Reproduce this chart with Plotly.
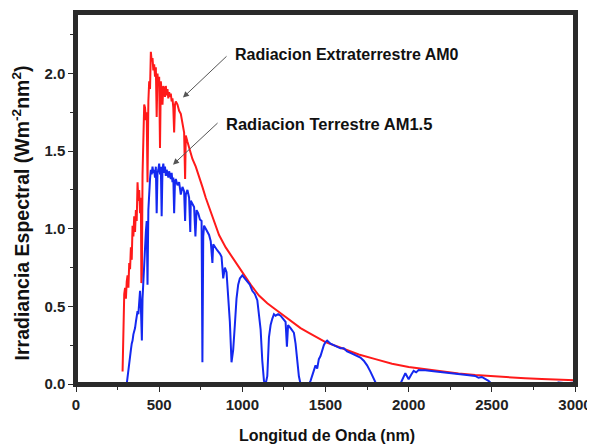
import plotly.graph_objects as go

# AM0 (extraterrestrial) spectrum
wl_am0 = [280, 283, 286, 290, 295, 300, 305, 310, 315, 320, 325, 330, 335, 340, 345,
          350, 355, 360, 365, 370, 375, 380, 385, 390, 393, 396, 400, 405, 410, 415,
          420, 425, 430, 435, 440, 445, 450, 455, 460, 465, 470, 475, 480, 485, 490,
          495, 500, 505, 510, 515, 520, 525, 530, 535, 540, 545, 550, 555, 560, 565,
          570, 575, 580, 585, 590, 595, 600, 610, 620, 630, 640, 650, 656, 660, 670,
          680, 690, 700, 720, 740, 760, 780, 800, 830, 860, 900, 950, 1000, 1050, 1100,
          1150, 1200, 1250, 1300, 1350, 1400, 1450, 1500, 1600, 1700, 1800, 1900, 2000,
          2100, 2200, 2300, 2400, 2500, 2600, 2700, 2800, 2900, 3000]
irr_am0 = [0.08, 0.32, 0.52, 0.58, 0.62, 0.55, 0.66, 0.70, 0.62, 0.78, 0.74, 0.88, 0.80, 1.02, 0.95,
           1.08, 0.98, 1.12, 1.05, 1.30, 1.18, 1.25, 1.10, 1.20, 0.65, 0.70, 1.35, 1.72, 1.80, 1.78,
           1.70, 1.75, 1.30, 1.82, 1.95, 1.90, 2.14, 2.08, 2.10, 2.02, 2.06, 1.98, 2.04, 1.72, 2.00,
           1.92, 1.98, 1.52, 1.95, 1.88, 1.80, 1.92, 1.90, 1.85, 1.92, 1.86, 1.90, 1.84, 1.88, 1.85,
           1.87, 1.82, 1.84, 1.78, 1.62, 1.80, 1.82, 1.80, 1.76, 1.74, 1.68, 1.62, 1.32, 1.60, 1.56,
           1.52, 1.49, 1.45, 1.40, 1.34, 1.27, 1.20, 1.14, 1.05, 0.96, 0.88, 0.80, 0.72, 0.64, 0.57,
           0.52, 0.48, 0.44, 0.40, 0.36, 0.33, 0.30, 0.27, 0.23, 0.19, 0.16, 0.13, 0.11,
           0.095, 0.08, 0.068, 0.058, 0.05, 0.043, 0.037, 0.032, 0.028, 0.024]

# AM1.5 (terrestrial) spectrum
wl_am15 = [305, 310, 315, 320, 325, 330, 335, 340, 345, 350, 355, 360, 365, 370, 375,
           380, 385, 390, 393, 396, 400, 405, 410, 415, 420, 425, 430, 435, 440, 445,
           450, 455, 460, 465, 470, 475, 480, 485, 490, 495, 500, 505, 510, 515, 520,
           525, 530, 535, 540, 545, 550, 555, 560, 565, 570, 575, 580, 585, 590, 595,
           600, 610, 620, 630, 640, 650, 656, 660, 670, 680, 687, 690, 700, 710, 718,
           725, 735, 745, 755, 760, 765, 770, 780, 790, 800, 810, 820, 825, 835, 850,
           865, 875, 885, 895, 905, 915, 925, 935, 945, 955, 965, 975, 985, 1000, 1015,
           1030, 1045, 1060, 1075, 1090, 1100, 1110, 1120, 1130, 1140, 1150, 1160, 1170, 1180, 1190,
           1200, 1215, 1230, 1245, 1260, 1268, 1275, 1290, 1310, 1320, 1330, 1340, 1350, 1400, 1410,
           1420, 1430, 1440, 1450, 1460, 1470, 1480, 1490, 1500, 1510, 1530, 1550, 1570, 1590, 1610,
           1630, 1650, 1670, 1690, 1710, 1730, 1750, 1770, 1790, 1805, 1950, 1965, 1980, 1990, 2000,
           2015, 2030, 2045, 2060, 2080, 2100, 2150, 2200, 2250, 2300, 2350, 2400, 2420, 2440, 2460,
           2480, 2500, 2880, 2900, 2950, 3000]
irr_am15 = [0.0, 0.05, 0.10, 0.16, 0.20, 0.22, 0.26, 0.28, 0.32, 0.34, 0.36, 0.40, 0.44, 0.47, 0.45,
            0.52, 0.60, 0.50, 0.30, 0.28, 0.55, 0.68, 0.80, 0.92, 0.98, 1.05, 0.64, 1.12, 1.25, 1.32,
            1.38, 1.35, 1.40, 1.36, 1.38, 1.33, 1.40, 1.10, 1.36, 1.38, 1.42, 1.35, 1.40, 1.08, 1.38,
            1.42, 1.36, 1.40, 1.34, 1.38, 1.36, 1.33, 1.37, 1.35, 1.32, 1.36, 1.30, 1.33, 1.10, 1.30,
            1.32, 1.28, 1.30, 1.22, 1.27, 1.24, 1.05, 1.22, 1.25, 1.20, 0.98, 1.18, 1.16, 1.14, 0.95,
            1.12, 1.10, 1.06, 1.05, 0.14, 0.95, 1.02, 1.00, 0.98, 0.96, 0.92, 0.78, 0.90, 0.88, 0.86,
            0.84, 0.82, 0.68, 0.75, 0.72, 0.55, 0.40, 0.14, 0.22, 0.38, 0.55, 0.64, 0.68, 0.70, 0.68,
            0.66, 0.64, 0.60, 0.58, 0.54, 0.46, 0.35, 0.15, 0.02, 0.00, 0.05, 0.30, 0.38, 0.42, 0.45,
            0.44, 0.45, 0.44, 0.42, 0.40, 0.24, 0.38, 0.36, 0.33, 0.26, 0.15, 0.05, 0.0, 0.0, 0.02,
            0.05, 0.08, 0.12, 0.10, 0.16, 0.18, 0.22, 0.25, 0.27, 0.28, 0.26, 0.25, 0.24, 0.23, 0.23,
            0.21, 0.20, 0.19, 0.18, 0.17, 0.15, 0.12, 0.08, 0.04, 0.0, 0.0, 0.04, 0.07, 0.05, 0.03,
            0.06, 0.085, 0.075, 0.09, 0.088, 0.088, 0.082, 0.075, 0.068, 0.062, 0.058, 0.052, 0.04, 0.045, 0.035,
            0.02, 0.0, 0.0, 0.01, 0.005, 0.01]

x_range = [0, 3000]
y_range = [0, 2.39]
x_ticks = [0, 500, 1000, 1500, 2000, 2500, 3000]
y_ticks = [0.0, 0.5, 1.0, 1.5, 2.0]

label_am0 = "Radiacion Extraterrestre AM0"
label_am15 = "Radiacion Terrestre AM1.5"
x_title = "Longitud de Onda (nm)"
y_title = "Irradiancia Espectral (Wm<sup>-2</sup>nm<sup>2</sup>)"

FONT = "Liberation Sans, Arial, sans-serif"
AX = "#2a2a2a"

fig = go.Figure()
fig.add_trace(go.Scatter(x=wl_am0, y=irr_am0, mode="lines",
                         line=dict(color="#ff1a1a", width=2), name=label_am0))
fig.add_trace(go.Scatter(x=wl_am15, y=irr_am15, mode="lines",
                         line=dict(color="#1428f0", width=2), name=label_am15))
# plot frame drawn along the axis range
fig.add_trace(go.Scatter(x=[x_range[0], x_range[1], x_range[1], x_range[0], x_range[0]],
                         y=[y_range[0], y_range[0], y_range[1], y_range[1], y_range[0]],
                         mode="lines", line=dict(color=AX, width=4), cliponaxis=False,
                         hoverinfo="skip", name="frame"))

axis_common = dict(showline=True, linecolor=AX, linewidth=2.5, mirror=True,
                   ticks="outside", ticklen=5, tickwidth=1.3, tickcolor=AX,
                   showgrid=False, zeroline=False, automargin=False, layer="above traces",
                   tickfont=dict(family=FONT, size=15, color="#222", weight="bold"))

fig.update_xaxes(range=x_range, tickvals=x_ticks,
                 minor=dict(dtick=250, ticks="outside", ticklen=3, tickcolor=AX, showgrid=False),
                 **axis_common)
fig.update_yaxes(range=y_range, tickvals=y_ticks, tickformat=".1f",
                 minor=dict(dtick=0.25, ticks="outside", ticklen=3, tickcolor=AX, showgrid=False),
                 **axis_common)

# axis titles
fig.add_annotation(xref="paper", yref="paper", x=0.504, y=-0.1375, text=x_title,
                   showarrow=False, xanchor="center", yanchor="middle",
                   font=dict(family=FONT, size=16, color="#111", weight="bold"))
fig.add_annotation(xref="paper", yref="paper", x=-0.11, y=0.46, text=y_title,
                   showarrow=False, xanchor="center", yanchor="middle", textangle=-90,
                   font=dict(family=FONT, size=19.5, color="#111", weight="bold"))

# arrows
fig.add_annotation(x=643, y=1.845, ax=914, ay=2.12, axref="x", ayref="y", xref="x", yref="y",
                   text="", showarrow=True, arrowhead=2, arrowsize=1.2, arrowwidth=1,
                   arrowcolor="#555")
fig.add_annotation(x=583, y=1.413, ax=860, ay=1.69, axref="x", ayref="y", xref="x", yref="y",
                   text="", showarrow=True, arrowhead=2, arrowsize=1.2, arrowwidth=1,
                   arrowcolor="#555")
# labels
fig.add_annotation(x=944, y=2.123, xref="x", yref="y", text=label_am0, showarrow=False,
                   xanchor="left", yanchor="middle",
                   font=dict(family=FONT, size=16, color="#111", weight="bold"))
fig.add_annotation(x=890, y=1.677, xref="x", yref="y", text=label_am15, showarrow=False,
                   xanchor="left", yanchor="middle",
                   font=dict(family=FONT, size=16.5, color="#111", weight="bold"))

# page body adds an 8px offset, so the figure is 8px smaller and margins shifted
fig.update_layout(width=587, height=436, showlegend=False,
                  margin=dict(l=68, r=20, t=5, b=60),
                  plot_bgcolor="white", paper_bgcolor="white")

fig.write_html("out.html")
